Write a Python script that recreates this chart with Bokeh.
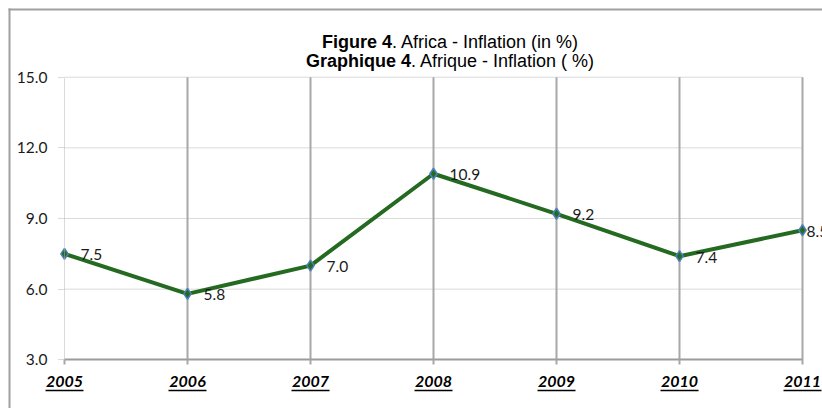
from bokeh.plotting import figure
from bokeh.models import Range1d, LinearAxis, FixedTicker, ColumnDataSource
from bokeh.core.properties import value
from bokeh.embed import file_html
from bokeh.resources import INLINE

# ---- data ----
years = [2005, 2006, 2007, 2008, 2009, 2010, 2011]
year_labels = ["2005", "2006", "2007", "2008", "2009", "2010", "2011"]
inflation = [7.5, 5.8, 7.0, 10.9, 9.2, 7.4, 8.5]
inflation_labels = ["7.5", "5.8", "7.0", "10.9", "9.2", "7.4", "8.5"]
y_ticks = [3, 6, 9, 12, 15]
y_tick_labels = ["3.0", "6.0", "9.0", "12.0", "15.0"]
title_line1 = ("Figure 4", ". Africa - Inflation (in %)")
title_line2 = ("Graphique 4", ". Afrique - Inflation ( %)")

# ---- layout (pixel geometry) ----
W, H = 822, 408
LEFT_PX = 64                 # canvas x of first year
SX = 738 / 6.0               # px per year
TOP_PX = 76.7                # canvas y of 15.0
SY = 282.6 / 12.0            # px per unit
x0 = years[0] - LEFT_PX / SX
x1 = x0 + W / SX
y1 = y_ticks[-1] + TOP_PX / SY
y0 = y1 - H / SY

def dx(px):
    return x0 + px / SX

def dy(py):
    return y1 - py / SY

p = figure(width=W, height=H, x_range=Range1d(x0, x1), y_range=Range1d(y0, y1),
           x_axis_type=None, y_axis_type=None, min_border=0,
           output_backend="svg", toolbar_location=None)
p.outline_line_color = None
p.background_fill_color = "white"
p.border_fill_color = "white"

# horizontal dotted gridlines (between first and last year)
hg = y_ticks[1:]
p.segment(x0=[years[0]] * len(hg), y0=hg, x1=[years[-1]] * len(hg), y1=hg,
          line_color="#b4b4b4", line_width=1, line_dash="1 1")
# vertical solid gridlines
vg = years[1:]
p.segment(x0=vg, y0=[y_ticks[0]] * len(vg), x1=vg, y1=[y_ticks[-1]] * len(vg),
          line_color="#a8a8a8", line_width=2)

# axes
yaxis = LinearAxis(fixed_location=years[0], bounds=(y_ticks[0], y_ticks[-1]),
                   ticker=FixedTicker(ticks=y_ticks),
                   major_label_overrides={t: l for t, l in zip(y_ticks, y_tick_labels)},
                   axis_line_color="#b4b4b4", axis_line_width=1, axis_line_dash="1 1",
                   major_tick_line_color="#b4b4b4", major_tick_line_dash="1 1",
                   major_tick_out=6, major_tick_in=0, minor_tick_line_color=None,
                   major_label_standoff=11,
                   major_label_text_font="Lato", major_label_text_font_size="15.5px",
                   major_label_text_color="#1a1a1a")
p.add_layout(yaxis, "left")

xaxis = LinearAxis(fixed_location=y_ticks[0], bounds=(years[0], years[-1]),
                   ticker=FixedTicker(ticks=years),
                   major_label_overrides={t: l for t, l in zip(years, year_labels)},
                   axis_line_color="#9c9c9c", axis_line_width=2,
                   major_tick_line_color="#a8a8a8", major_tick_line_width=2,
                   major_tick_out=5, major_tick_in=0, minor_tick_line_color=None,
                   major_label_standoff=11,
                   major_label_text_font="Lato", major_label_text_font_size="16px",
                   major_label_text_font_style="bold italic",
                   major_label_text_color="black")
p.add_layout(xaxis, "below")

# underline of year labels
ul_y = dy(390)
half = 19 / SX
p.segment(x0=[y - half for y in years], y0=[ul_y] * len(years),
          x1=[y + half for y in years], y1=[ul_y] * len(years),
          line_color="black", line_width=1.5)

# outer chart border (left and top)
p.segment(x0=[dx(9), dx(8)], y0=[dy(8), dy(9)], x1=[dx(9), dx(W)], y1=[dy(H), dy(9)],
          line_color="#a0a0a0", line_width=2)

# series
p.line(years, inflation, line_color="#246b21", line_width=4)
p.scatter(years, inflation, marker="diamond", size=11, fill_color="#246b21",
          line_color="#4f81bd", line_width=1.5)

lab_src = ColumnDataSource(dict(x=years, y=inflation, t=inflation_labels,
                                xo=[16, 16, 16, 16, 16, 16, 4]))
p.text(x="x", y="y", text="t", source=lab_src, x_offset="xo", y_offset=1,
       text_align="left", text_baseline="middle", text_font=value("Lato"),
       text_font_size="15.5px", text_color="#1a1a1a")

# title (bold part + regular part, centred)
fs = 18
cx = 450
em1b, em1r = 3.89, 10.39
em2b, em2r = 5.835, 10.226
s1 = cx - (em1b + em1r) * fs / 2 + em1b * fs
s2 = cx - (em2b + em2r) * fs / 2 + em2b * fs
for (bold, rest), split, base in ((title_line1, s1, 41), (title_line2, s2, 60)):
    p.text(x=[dx(split)], y=[dy(base)], text=[bold], text_align="right",
           text_baseline="alphabetic", text_font=value("Liberation Sans"),
           text_font_style="bold", text_font_size=f"{fs}px", text_color="black")
    p.text(x=[dx(split)], y=[dy(base)], text=[rest], text_align="left",
           text_baseline="alphabetic", text_font=value("Liberation Sans"),
           text_font_size=f"{fs}px", text_color="black")

open("out.html", "w").write(file_html(p, INLINE))
